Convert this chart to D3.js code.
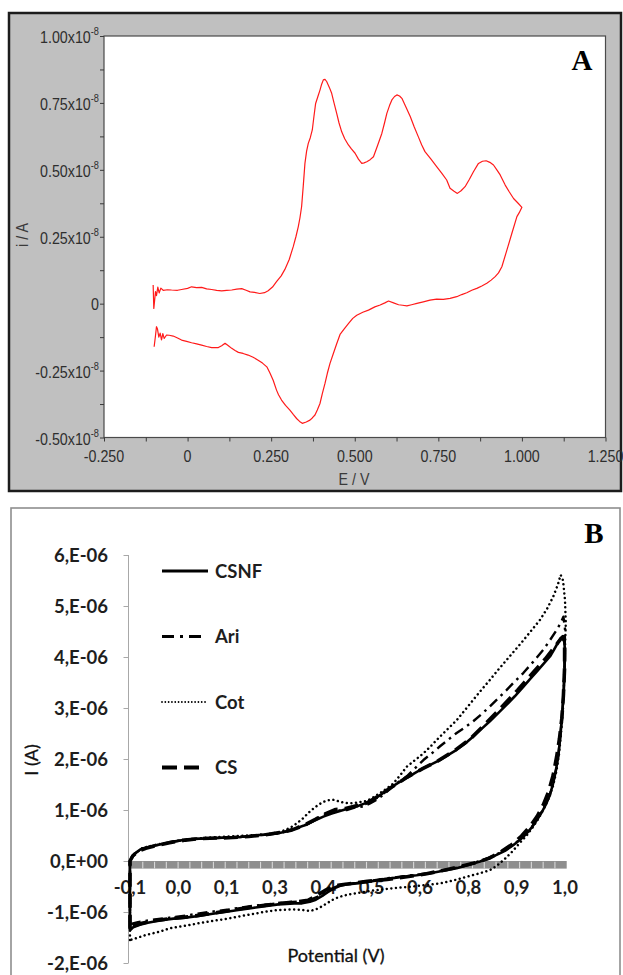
<!DOCTYPE html>
<html>
<head>
<meta charset="utf-8">
<script src="https://cdn.jsdelivr.net/npm/d3@7"></script>
<style>
  html, body { margin: 0; padding: 0; background: #ffffff; }
  svg { display: block; }
</style>
</head>
<body>
<svg id="chart" width="623" height="975"></svg>
<script>
// ---------- Panel A: cyclic voltammogram (current in units of 1e-8 A) ----------
const aPotential = [
  -0.103,-0.101,-0.096,-0.093,-0.089,-0.085,-0.080,-0.073,-0.060,-0.048,-0.030,-0.018,0.000,0.012,0.027,0.042,0.057,0.072,0.087,0.102,
  0.117,0.132,0.147,0.162,0.175,0.187,0.200,0.216,0.230,0.241,0.254,0.266,0.280,0.291,0.304,0.316,0.324,0.331,0.336,0.341,
  0.346,0.351,0.356,0.361,0.367,0.373,0.378,0.383,0.390,0.396,0.401,0.406,0.411,0.416,0.424,0.431,0.438,0.446,0.453,0.461,
  0.470,0.481,0.490,0.501,0.511,0.521,0.528,0.536,0.546,0.556,0.568,0.581,0.589,0.596,0.604,0.611,0.619,0.626,0.634,0.641,
  0.653,0.666,0.678,0.690,0.700,0.710,0.728,0.745,0.760,0.775,0.785,0.797,0.807,0.818,0.830,0.843,0.855,0.870,0.882,0.893,
  0.904,0.915,0.925,0.935,0.950,0.962,0.975,0.988,1.000,
  0.992,0.985,0.970,0.955,0.940,0.930,0.920,0.908,0.895,0.880,0.865,0.850,0.835,0.820,0.805,0.785,0.765,0.745,0.725,0.705,
  0.686,0.670,0.656,0.643,0.631,0.616,0.601,0.590,0.576,0.560,0.541,0.524,0.506,0.494,0.481,0.468,0.456,0.446,0.436,0.426,
  0.418,0.411,0.403,0.396,0.388,0.381,0.373,0.366,0.355,0.343,0.335,0.326,0.316,0.306,0.293,0.281,0.272,0.266,0.256,0.246,
  0.237,0.224,0.211,0.196,0.181,0.166,0.152,0.142,0.132,0.122,0.112,0.102,0.092,0.082,0.072,0.057,0.042,0.027,0.012,-0.003,
  -0.018,-0.030,-0.043,-0.055,-0.063,-0.070,-0.074,-0.078,-0.082,-0.086,-0.090,-0.093,-0.096,-0.100
];
const aCurrent = [
  0.070,-0.018,0.045,0.030,0.062,0.040,0.058,0.050,0.052,0.051,0.050,0.053,0.057,0.063,0.060,0.061,0.055,0.053,0.050,0.048,
  0.050,0.051,0.054,0.056,0.050,0.044,0.042,0.038,0.041,0.048,0.062,0.082,0.104,0.128,0.165,0.213,0.250,0.287,0.320,0.362,
  0.440,0.524,0.570,0.599,0.620,0.649,0.700,0.748,0.775,0.798,0.820,0.836,0.838,0.830,0.808,0.786,0.750,0.711,0.675,0.642,
  0.616,0.593,0.578,0.562,0.540,0.524,0.526,0.530,0.538,0.549,0.590,0.636,0.675,0.711,0.740,0.761,0.774,0.780,0.776,0.767,
  0.735,0.699,0.660,0.624,0.594,0.568,0.540,0.512,0.488,0.462,0.431,0.420,0.412,0.422,0.437,0.465,0.493,0.524,0.532,0.534,
  0.528,0.518,0.500,0.481,0.443,0.418,0.393,0.376,0.360,
  0.340,0.325,0.263,0.200,0.138,0.115,0.101,0.088,0.076,0.066,0.057,0.050,0.041,0.034,0.026,0.020,0.016,0.017,0.013,0.007,
  0.001,-0.004,-0.008,-0.006,-0.004,0.003,0.010,0.003,-0.005,-0.012,-0.024,-0.032,-0.043,-0.055,-0.075,-0.095,-0.115,-0.150,-0.186,-0.223,
  -0.260,-0.298,-0.336,-0.373,-0.397,-0.416,-0.427,-0.435,-0.442,-0.447,-0.440,-0.429,-0.414,-0.398,-0.380,-0.360,-0.340,-0.323,-0.286,-0.258,
  -0.236,-0.222,-0.211,-0.200,-0.192,-0.186,-0.182,-0.175,-0.167,-0.157,-0.148,-0.157,-0.164,-0.164,-0.164,-0.160,-0.155,-0.150,-0.146,-0.141,
  -0.136,-0.128,-0.121,-0.118,-0.117,-0.130,-0.112,-0.135,-0.110,-0.125,-0.095,-0.086,-0.120,-0.161
];
const aXTicks = [-0.25, 0, 0.25, 0.5, 0.75, 1.0, 1.25];
const aXTickLabels = ["-0.250", "0", "0.250", "0.500", "0.750", "1.000", "1.250"];
const aYTicks = [-0.5, -0.25, 0, 0.25, 0.5, 0.75, 1.0];
const aYTickMantissa = ["-0.50x10", "-0.25x10", "0", "0.25x10", "0.50x10", "0.75x10", "1.00x10"];
const aYTickExponent = ["-8", "-8", "", "-8", "-8", "-8", "-8"];

// ---------- Panel B: four electrodes (current in units of 1e-6 A) ----------
const seriesNames = ["CSNF", "Ari", "Cot", "CS"];

const csnfPotential = [
  -0.100,-0.100,-0.100,-0.095,-0.087,-0.075,-0.066,-0.050,-0.033,-0.010,0.010,0.035,0.060,0.090,0.119,0.150,0.178,0.205,0.229,0.250,
  0.271,0.290,0.305,0.320,0.338,0.360,0.389,0.410,0.431,0.452,0.473,0.494,0.515,0.536,0.557,0.578,0.600,0.621,0.642,0.663,
  0.684,0.705,0.726,0.747,0.768,0.789,0.810,0.831,0.852,0.873,0.895,0.912,0.928,0.945,0.962,0.972,0.979,0.985,0.989,0.994,
  0.998,1.000,0.999,0.997,0.994,0.991,0.987,0.983,0.977,0.970,0.962,0.953,0.943,0.932,0.918,0.903,0.887,0.869,0.848,0.827,
  0.806,0.785,0.755,0.726,0.692,0.659,0.625,0.591,0.560,0.532,0.500,0.473,0.446,0.430,0.415,0.400,0.385,0.370,0.355,0.335,
  0.315,0.295,0.275,0.246,0.210,0.174,0.140,0.105,0.074,0.040,0.010,-0.010,-0.035,-0.055,-0.075,-0.092,-0.100
];
const csnfCurrent = [
  -1.36,-0.60,0.00,0.08,0.15,0.22,0.25,0.28,0.31,0.35,0.38,0.41,0.43,0.44,0.45,0.46,0.47,0.49,0.51,0.52,
  0.54,0.57,0.60,0.64,0.69,0.77,0.87,0.93,0.98,1.03,1.07,1.13,1.20,1.31,1.43,1.53,1.63,1.73,1.82,1.90,
  1.98,2.08,2.18,2.30,2.44,2.59,2.74,2.90,3.06,3.23,3.42,3.57,3.71,3.86,4.01,4.14,4.24,4.32,4.37,4.38,
  4.30,4.14,3.75,3.35,3.00,2.70,2.35,2.05,1.78,1.52,1.30,1.13,0.98,0.84,0.68,0.54,0.42,0.31,0.20,0.12,
  0.05,-0.01,-0.08,-0.14,-0.19,-0.24,-0.28,-0.31,-0.34,-0.37,-0.41,-0.44,-0.46,-0.49,-0.54,-0.61,-0.69,-0.76,-0.80,-0.83,
  -0.83,-0.84,-0.85,-0.88,-0.92,-0.96,-1.00,-1.04,-1.08,-1.11,-1.13,-1.15,-1.18,-1.21,-1.25,-1.30,-1.36
];

const ariPotential = [
  -0.100,-0.100,-0.100,-0.095,-0.087,-0.075,-0.066,-0.050,-0.033,-0.010,0.010,0.035,0.060,0.090,0.119,0.150,0.178,0.205,0.229,0.250,
  0.271,0.290,0.305,0.320,0.347,0.365,0.381,0.398,0.414,0.431,0.448,0.470,0.490,0.507,0.524,0.545,0.566,0.583,0.600,0.621,
  0.642,0.663,0.684,0.705,0.726,0.747,0.768,0.789,0.810,0.831,0.852,0.873,0.895,0.920,0.945,0.962,0.979,0.990,0.996,1.000,
  0.999,0.997,0.994,0.991,0.987,0.983,0.977,0.970,0.962,0.953,0.943,0.932,0.918,0.903,0.887,0.869,0.848,0.827,0.806,0.785,
  0.755,0.726,0.692,0.659,0.625,0.591,0.560,0.532,0.500,0.473,0.446,0.425,0.405,0.390,0.375,0.355,0.335,0.300,0.250,0.200,
  0.150,0.100,0.050,0.000,-0.050,-0.080,-0.095,-0.100
];
const ariCurrent = [
  -1.28,-0.60,0.00,0.08,0.15,0.22,0.25,0.28,0.31,0.35,0.38,0.41,0.43,0.44,0.45,0.46,0.47,0.49,0.51,0.52,
  0.54,0.57,0.61,0.66,0.71,0.79,0.87,0.93,0.97,0.99,1.00,1.05,1.07,1.13,1.20,1.33,1.47,1.57,1.66,1.82,
  1.98,2.11,2.25,2.38,2.51,2.62,2.74,2.88,3.03,3.19,3.35,3.52,3.69,3.91,4.14,4.33,4.53,4.68,4.79,4.55,
  4.00,3.40,3.02,2.72,2.37,2.07,1.79,1.53,1.31,1.14,0.99,0.85,0.69,0.55,0.43,0.32,0.21,0.13,0.06,0.00,
  -0.07,-0.13,-0.18,-0.23,-0.27,-0.30,-0.33,-0.36,-0.40,-0.43,-0.45,-0.49,-0.56,-0.63,-0.70,-0.76,-0.79,-0.81,-0.85,-0.89,
  -0.95,-1.00,-1.06,-1.11,-1.16,-1.20,-1.23,-1.28
];

const cotPotential = [
  -0.100,-0.100,-0.100,-0.090,-0.070,-0.040,0.000,0.050,0.100,0.150,0.200,0.250,0.280,0.305,0.322,0.338,0.352,0.364,0.376,0.389,
  0.400,0.414,0.428,0.442,0.456,0.470,0.485,0.499,0.515,0.532,0.549,0.566,0.583,0.600,0.621,0.642,0.663,0.684,0.705,0.726,
  0.747,0.768,0.789,0.810,0.831,0.852,0.873,0.895,0.916,0.937,0.955,0.970,0.982,0.989,0.995,1.000,1.002,1.000,0.998,0.995,
  0.990,0.985,0.978,0.970,0.960,0.948,0.935,0.920,0.903,0.885,0.866,0.845,0.828,0.810,0.780,0.751,0.718,0.684,0.650,0.616,
  0.587,0.557,0.515,0.473,0.450,0.431,0.415,0.400,0.385,0.370,0.355,0.335,0.313,0.275,0.246,0.210,0.174,0.140,0.105,0.074,
  0.040,0.000,-0.027,-0.060,-0.087,-0.100
];
const cotCurrent = [
  -1.55,-0.70,0.00,0.12,0.25,0.31,0.37,0.43,0.46,0.48,0.50,0.53,0.57,0.65,0.74,0.84,0.95,1.03,1.10,1.16,
  1.19,1.20,1.17,1.14,1.13,1.14,1.16,1.18,1.25,1.33,1.42,1.52,1.68,1.85,1.98,2.11,2.27,2.44,2.60,2.76,
  2.96,3.16,3.36,3.55,3.75,3.94,4.13,4.33,4.53,4.73,4.95,5.18,5.42,5.61,5.50,5.12,4.66,4.20,3.60,3.00,
  2.50,2.10,1.75,1.48,1.25,1.05,0.86,0.68,0.50,0.35,0.18,0.02,-0.09,-0.18,-0.25,-0.31,-0.38,-0.44,-0.47,-0.50,
  -0.52,-0.54,-0.58,-0.63,-0.66,-0.70,-0.75,-0.82,-0.89,-0.95,-0.98,-0.96,-0.95,-0.96,-0.99,-1.04,-1.09,-1.14,-1.18,-1.22,
  -1.27,-1.32,-1.39,-1.45,-1.52,-1.55
];

const csPotential = [
  -0.100,-0.100,-0.100,-0.093,-0.080,-0.060,-0.035,0.000,0.040,0.080,0.120,0.160,0.200,0.240,0.280,0.310,0.340,0.370,0.395,0.420,
  0.445,0.470,0.500,0.530,0.560,0.600,0.640,0.680,0.720,0.760,0.800,0.840,0.880,0.920,0.950,0.970,0.982,0.990,0.995,0.999,
  0.999,0.996,0.992,0.986,0.979,0.970,0.958,0.945,0.930,0.912,0.890,0.865,0.840,0.810,0.780,0.740,0.700,0.650,0.600,0.550,
  0.500,0.460,0.430,0.410,0.395,0.380,0.365,0.350,0.320,0.280,0.240,0.200,0.160,0.120,0.080,0.040,0.000,-0.040,-0.070,-0.090,-0.100
];
const csCurrent = [
  -1.33,-0.60,0.00,0.10,0.19,0.25,0.30,0.36,0.41,0.44,0.45,0.46,0.48,0.51,0.56,0.61,0.70,0.82,0.93,1.01,
  1.03,1.08,1.14,1.28,1.44,1.64,1.81,1.97,2.16,2.39,2.70,3.02,3.35,3.70,3.96,4.16,4.28,4.36,4.40,4.25,
  3.80,3.25,2.80,2.40,2.05,1.68,1.35,1.10,0.88,0.68,0.49,0.32,0.19,0.06,-0.02,-0.10,-0.17,-0.25,-0.31,-0.36,
  -0.40,-0.44,-0.47,-0.51,-0.57,-0.64,-0.71,-0.77,-0.80,-0.83,-0.87,-0.91,-0.96,-1.01,-1.06,-1.10,-1.13,-1.17,-1.22,-1.27,-1.33
];

const bXTicks = [-0.1, 0.0222, 0.1444, 0.2667, 0.3889, 0.5111, 0.6333, 0.7556, 0.8778, 1.0];
const bXTickLabels = ["-0,1", "0,0", "0,1", "0,3", "0,4", "0,5", "0,6", "0,8", "0,9", "1,0"];
const bYTicks = [-2, -1, 0, 1, 2, 3, 4, 5, 6];
const bYTickLabels = ["-2,E-06", "-1,E-06", "0,E+00", "1,E-06", "2,E-06", "3,E-06", "4,E-06", "5,E-06", "6,E-06"];

// ====================================================================
const svg = d3.select("#chart");

// ---------------- Panel A ----------------
const gA = svg.append("g");
gA.append("rect")
  .attr("x", 9).attr("y", 13).attr("width", 612).attr("height", 478)
  .attr("fill", "#c0c0c0").attr("stroke", "#1c1c1c").attr("stroke-width", 2.5);

const xA = d3.scaleLinear().domain([-0.25, 1.25]).range([104, 605.5]);
const yA = d3.scaleLinear().domain([-0.5, 1.0]).range([437.5, 36]);

gA.append("rect")
  .attr("x", xA(-0.25)).attr("y", yA(1.0))
  .attr("width", xA(1.25) - xA(-0.25)).attr("height", yA(-0.5) - yA(1.0))
  .attr("fill", "#ffffff").attr("stroke", "#4a4a4a").attr("stroke-width", 1.2);

const aMinorY = d3.range(-0.5, 1.0001, 0.125);
const aMinorX = d3.range(-0.25, 1.2501, 0.125);

const axisAY = gA.append("g").attr("transform", `translate(${xA(-0.25)},0)`)
  .call(d3.axisLeft(yA).tickValues(aMinorY).tickSize(4).tickFormat(""));
const axisAX = gA.append("g").attr("transform", `translate(0,${yA(-0.5)})`)
  .call(d3.axisBottom(xA).tickValues(aMinorX).tickSize(4).tickFormat(""));
[axisAY, axisAX].forEach(ax => {
  ax.select(".domain").remove();
  ax.selectAll(".tick line").attr("stroke", "#3a3a3a").attr("stroke-width", 1);
});

const aFont = "'Liberation Sans', Arial, sans-serif";
const yLabA = gA.append("g");
aYTicks.forEach((v, i) => {
  const t = yLabA.append("g")
    .attr("transform", `translate(99,${yA(v) + (aYTickExponent[i] ? 7 : 6)}) scale(0.84,1)`)
    .append("text")
    .attr("text-anchor", "end")
    .attr("font-family", aFont).attr("font-size", 17).attr("fill", "#2e2e2e");
  t.append("tspan").text(aYTickMantissa[i]);
  if (aYTickExponent[i]) {
    t.append("tspan").attr("dy", -8).attr("font-size", 11).text(aYTickExponent[i]);
  }
});
aXTicks.forEach((v, i) => {
  gA.append("g")
    .attr("transform", `translate(${xA(v)},461.5) scale(0.84,1)`)
    .append("text").attr("text-anchor", "middle")
    .attr("font-family", aFont).attr("font-size", 17).attr("fill", "#2e2e2e")
    .text(aXTickLabels[i]);
});
gA.append("g").attr("transform", "translate(354,484.5) scale(0.84,1)")
  .append("text").attr("text-anchor", "middle")
  .attr("font-family", aFont).attr("font-size", 17).attr("fill", "#3a3a3a")
  .text("E / V");
gA.append("g").attr("transform", "translate(28,235) rotate(-90) scale(0.84,1)")
  .append("text").attr("text-anchor", "middle")
  .attr("font-family", aFont).attr("font-size", 17).attr("fill", "#3a3a3a")
  .text("i / A");
gA.append("text")
  .attr("x", 582).attr("y", 70).attr("text-anchor", "middle")
  .attr("font-family", "'Liberation Serif', 'Times New Roman', serif")
  .attr("font-weight", "bold").attr("font-size", 29).attr("fill", "#000")
  .text("A");

const lineA = d3.line().x(d => xA(d[0])).y(d => yA(d[1]));
gA.append("path")
  .datum(aPotential.map((e, i) => [e, aCurrent[i]]))
  .attr("d", lineA)
  .attr("fill", "none").attr("stroke", "#ff1a1a").attr("stroke-width", 1.2)
  .attr("stroke-linejoin", "round");

// ---------------- Panel B ----------------
const gB = svg.append("g");
gB.append("rect")
  .attr("x", 11).attr("y", 508).attr("width", 609).attr("height", 490)
  .attr("fill", "#ffffff").attr("stroke", "#8e8e8e").attr("stroke-width", 1.6);

const xB = d3.scaleLinear().domain([-0.1, 1.0]).range([130, 565]);
const yB = d3.scaleLinear().domain([-2, 6]).range([963, 555]);
const bFont = "Lato, 'Open Sans', 'Noto Sans', sans-serif";

// vertical axis
const axisBY = gB.append("g").attr("transform", "translate(128.5,0)")
  .call(d3.axisLeft(yB).tickValues(bYTicks).tickSize(5).tickFormat(""));
axisBY.select(".domain").attr("stroke", "#a8a8a8").attr("stroke-width", 1)
  .attr("d", `M0,${yB(6)}V${yB(-2)}`);
axisBY.selectAll(".tick line").attr("stroke", "#a8a8a8");

bYTicks.forEach((v, i) => {
  gB.append("text")
    .attr("x", 108).attr("y", yB(v) + 6.6)
    .attr("text-anchor", "end")
    .attr("font-family", bFont).attr("font-weight", 700).attr("font-size", 18.5)
    .attr("fill", "#1e1e1e")
    .text(bYTickLabels[i]);
});

// horizontal axis band at zero current
const bandTop = yB(0);
const bandLeft = xB(-0.1) + 1;
const bandRight = xB(1.0) + 1.7;
gB.append("rect")
  .attr("x", bandLeft).attr("y", bandTop)
  .attr("width", bandRight - bandLeft).attr("height", 7.6)
  .attr("fill", "#8e8e8e");
const bandSegments = 37;
gB.append("g").selectAll("line")
  .data(d3.range(1, bandSegments))
  .join("line")
  .attr("x1", k => bandLeft + k * (bandRight - bandLeft) / bandSegments)
  .attr("x2", k => bandLeft + k * (bandRight - bandLeft) / bandSegments)
  .attr("y1", bandTop + 0.8).attr("y2", bandTop + 7.6)
  .attr("stroke", "#d8d8d8").attr("stroke-width", 1.1);

bXTicks.forEach((v, i) => {
  gB.append("text")
    .attr("x", xB(v)).attr("y", 893.5)
    .attr("text-anchor", "middle")
    .attr("font-family", bFont).attr("font-weight", 700).attr("font-size", 18.5)
    .attr("fill", "#1e1e1e")
    .text(bXTickLabels[i]);
});

gB.append("text")
  .attr("x", 336).attr("y", 961.5).attr("text-anchor", "middle")
  .attr("font-family", bFont).attr("font-weight", 400).attr("font-size", 18)
  .attr("fill", "#111").attr("stroke", "#111").attr("stroke-width", 0.3)
  .text("Potential (V)");
gB.append("text")
  .attr("transform", "translate(38,760) rotate(-90)").attr("text-anchor", "middle")
  .attr("font-family", bFont).attr("font-weight", 400).attr("font-size", 18)
  .attr("fill", "#111").attr("stroke", "#111").attr("stroke-width", 0.3)
  .text("I (A)");
gB.append("text")
  .attr("x", 594).attr("y", 543).attr("text-anchor", "middle")
  .attr("font-family", "'Liberation Serif', 'Times New Roman', serif")
  .attr("font-weight", "bold").attr("font-size", 29).attr("fill", "#000")
  .text("B");

// line styles per electrode
const styles = {
  CSNF: { width: 2.6, dash: null, cap: "butt" },
  Ari:  { width: 2.4, dash: "10,5,2.5,5", cap: "butt" },
  Cot:  { width: 2.5, dash: "0.01,4.6", cap: "round" },
  CS:   { width: 3.6, dash: "14,7", cap: "butt" }
};
const seriesData = {
  CSNF: csnfPotential.map((e, i) => [e, csnfCurrent[i]]),
  Ari:  ariPotential.map((e, i) => [e, ariCurrent[i]]),
  Cot:  cotPotential.map((e, i) => [e, cotCurrent[i]]),
  CS:   csPotential.map((e, i) => [e, csCurrent[i]])
};
const lineB = d3.line().x(d => xB(d[0])).y(d => yB(d[1]));
["Cot", "Ari", "CS", "CSNF"].forEach(name => {
  const s = styles[name];
  gB.append("path")
    .datum(seriesData[name])
    .attr("d", lineB)
    .attr("fill", "none").attr("stroke", "#000")
    .attr("stroke-width", s.width)
    .attr("stroke-dasharray", s.dash)
    .attr("stroke-linecap", s.cap)
    .attr("stroke-linejoin", "round");
});

// legend
const legendY = { CSNF: 571, Ari: 636.5, Cot: 702, CS: 767.5 };
const legendEnd = { CSNF: 208, Ari: 202, Cot: 207, CS: 200 };
seriesNames.forEach(name => {
  const s = styles[name];
  gB.append("line")
    .attr("x1", 162).attr("x2", legendEnd[name])
    .attr("y1", legendY[name]).attr("y2", legendY[name])
    .attr("stroke", "#000")
    .attr("stroke-width", name === "CS" ? 4.2 : (name === "Cot" ? 1.8 : 2.8))
    .attr("stroke-dasharray", name === "Ari" ? "12,6,3,6" : (name === "Cot" ? "0.01,3.3" : (name === "CS" ? "15,7" : null)))
    .attr("stroke-linecap", s.cap);
  gB.append("text")
    .attr("x", 215).attr("y", legendY[name] + 6.6)
    .attr("font-family", bFont).attr("font-weight", 700).attr("font-size", 18.5)
    .attr("fill", "#1e1e1e")
    .text(name);
});
</script>
</body>
</html>
